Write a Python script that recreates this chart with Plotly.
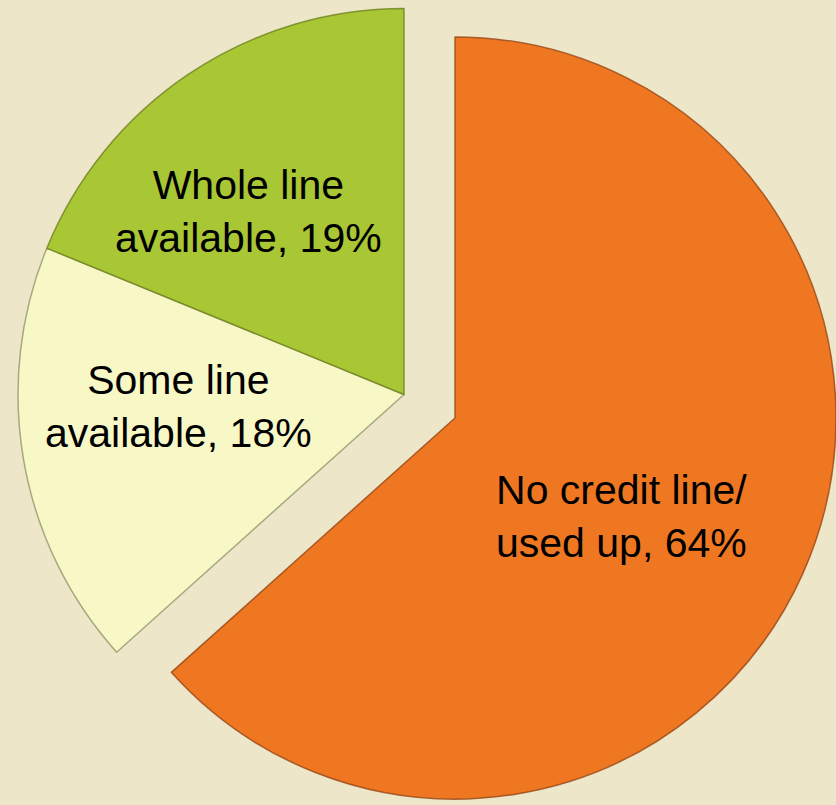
import plotly.graph_objects as go

# slices, clockwise from 12 o'clock
labels = ['No credit line/<br>used up', 'Some line<br>available', 'Whole line<br>available']
values = [64, 18, 19]  # percent as printed on the chart
colors = ['#F07722', '#F8F7C6', '#A9C634']

BG = '#EEE6C8'
W, H = 836, 805


def px_x(x):
    return x / W


def px_y(y):
    return 1 - y / H


fig = go.Figure()

# the pulled-out orange slice gets its own trace so it can keep full size
fig.add_trace(go.Pie(
    labels=labels, values=values, sort=False, direction='clockwise', rotation=0,
    marker=dict(colors=[colors[0], 'rgba(0,0,0,0)', 'rgba(0,0,0,0)'],
                line=dict(color=['rgba(150,70,20,0.8)', 'rgba(0,0,0,0)', 'rgba(0,0,0,0)'], width=1.5)),
    textinfo='none', hoverinfo='label+percent', showlegend=False,
    domain=dict(x=[px_x(74), 1], y=[px_y(801), px_y(35)]),
))

fig.add_trace(go.Pie(
    labels=labels, values=values, sort=False, direction='clockwise', rotation=0,
    marker=dict(colors=['rgba(0,0,0,0)', colors[1], colors[2]],
                line=dict(color=['rgba(0,0,0,0)', 'rgba(150,150,110,0.8)', 'rgba(110,130,30,0.8)'], width=1.5)),
    textinfo='none', hoverinfo='label+percent', showlegend=False,
    domain=dict(x=[px_x(18), px_x(790)], y=[px_y(781), px_y(8)]),
))

# label placement (pixel centres)
label_pos = [(621, 516), (178, 406), (248, 211)]
annotations = []
for lab, v, (x, y) in zip(labels, values, label_pos):
    annotations.append(dict(
        x=px_x(x), y=px_y(y), xref='paper', yref='paper', showarrow=False,
        text=f'{lab}, {v}%',
        font=dict(family='Liberation Sans, Arial, sans-serif', size=41, color='black'),
        xanchor='center', yanchor='middle', align='center',
    ))

fig.update_layout(
    width=W, height=H,
    margin=dict(l=0, r=0, t=0, b=0),
    paper_bgcolor=BG, plot_bgcolor=BG,
    showlegend=False,
    annotations=annotations,
)

fig.write_html('out.html', config={'displayModeBar': False},
               post_script="document.body.style.margin='0';")
